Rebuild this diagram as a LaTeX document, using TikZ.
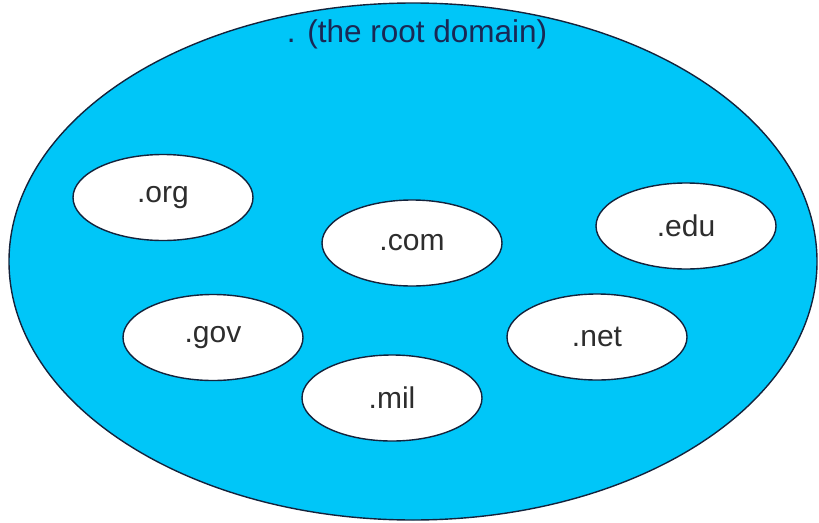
\documentclass[tikz,border=0pt]{standalone}
\usepackage{fontspec}
\setmainfont{Liberation Sans}
\usetikzlibrary{shapes.geometric}
\definecolor{rootfill}{RGB}{0,198,248}
\definecolor{edgecol}{RGB}{20,35,60}
\definecolor{roottext}{RGB}{25,40,85}
\definecolor{tldtext}{RGB}{45,45,45}
\tikzset{
  tld/.style={ellipse, draw=edgecol, line width=1.4pt, fill=white,
    minimum width=180pt, minimum height=86pt, inner sep=0pt,
    font=\fontsize{30}{36}\selectfont, text=tldtext},
  rootlabel/.style={font=\fontsize{31.5}{38}\selectfont, text=roottext, inner sep=0pt}
}
\begin{document}
\begin{tikzpicture}[x=1pt,y=-1pt]
\useasboundingbox (0,0) rectangle (819,522);
\node[ellipse, draw=edgecol, line width=1.4pt, fill=rootfill,
      minimum width=808pt, minimum height=517pt, inner sep=0pt] (root) at (413,261.5) {};
\node[rootlabel, anchor=base] (rootl) at (417,42) {. (the root domain)};
\node[tld] (org) at (163,197.5) {.org};
\node[tld] (com) at (412,243) {.com};
\node[tld] (edu) at (686,226) {.edu};
\node[tld] (gov) at (213,337.5) {.gov};
\node[tld] (net) at (597,337) {.net};
\node[tld] (mil) at (392,398) {.mil};
\end{tikzpicture}
\end{document}
